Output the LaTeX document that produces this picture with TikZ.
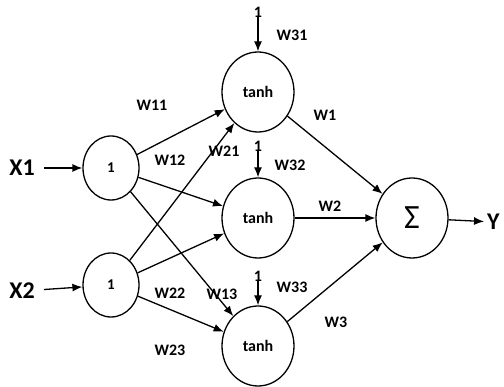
\documentclass[tikz,border=0pt]{standalone}
\usepackage{fontspec}
\setmainfont{Carlito}
\usetikzlibrary{arrows.meta,shapes.geometric}
\begin{document}
\begin{tikzpicture}[x=1pt,y=-1pt,
  inp/.style={draw,ellipse,line width=1.3pt,minimum width=56pt,minimum height=64pt,font=\fontsize{15}{15}\selectfont\bfseries},
  hid/.style={draw,ellipse,line width=1.3pt,minimum width=72pt,minimum height=80pt,font=\fontsize{16}{16}\selectfont\bfseries},
  conn/.style={line width=1.3pt,-{Latex[length=10pt,width=8pt]}},
  wl/.style={font=\fontsize{16}{16}\selectfont\bfseries,inner sep=0pt},
  big/.style={font=\fontsize{24}{24}\selectfont\bfseries,inner sep=0pt}]
\useasboundingbox (0,0) rectangle (504,387);
\node[inp] (i1) at (111,168) {1};
\node[inp] (i2) at (111,285) {1};
\node[hid] (h1) at (258,92) {tanh};
\node[hid] (h2) at (258,218) {tanh};
\node[hid] (h3) at (258,346) {tanh};
\node[hid,font=\fontsize{34}{34}\selectfont] (s) at (412,218) {\raisebox{-6pt}{Σ}};
\node[big] (x1) at (22,168) {X1};
\node[big] (x2) at (22,291) {X2};
\node[big,anchor=west] (y) at (487,222) {Y};
\node[wl] (b1) at (258,12) {1};
\node[wl] (b2) at (258,146) {1};
\node[wl] (b3) at (258,276) {1};
\draw[conn,shorten <=9pt] (x1) -- (i1);
\draw[conn,shorten <=9pt] (x2) -- (i2);
\draw[conn,shorten >=3pt] (s) -- (y);
\draw[conn] (b1) -- (h1);
\draw[conn] (b2) -- (h2);
\draw[conn] (b3) -- (h3);
\draw[conn] (i1) -- (h1);
\draw[conn] (i1) -- (h2);
\draw[conn] (i1) -- (h3);
\draw[conn] (i2) -- (h1);
\draw[conn] (i2) -- (h2);
\draw[conn] (i2) -- (h3);
\draw[conn] (h1) -- (s);
\draw[conn] (h2) -- (s);
\draw[conn] (h3) -- (s);
\node[wl] at (292,35) {W31};
\node[wl] at (290,165) {W32};
\node[wl] at (292,287) {W33};
\node[wl] at (152,105) {W11};
\node[wl] at (170,160) {W12};
\node[wl] at (224,151) {W21};
\node[wl] at (170,293) {W22};
\node[wl] at (222,294) {W13};
\node[wl] at (170,350) {W23};
\node[wl] at (325,115) {W1};
\node[wl] at (330,206) {W2};
\node[wl] at (336,322) {W3};
\end{tikzpicture}
\end{document}
